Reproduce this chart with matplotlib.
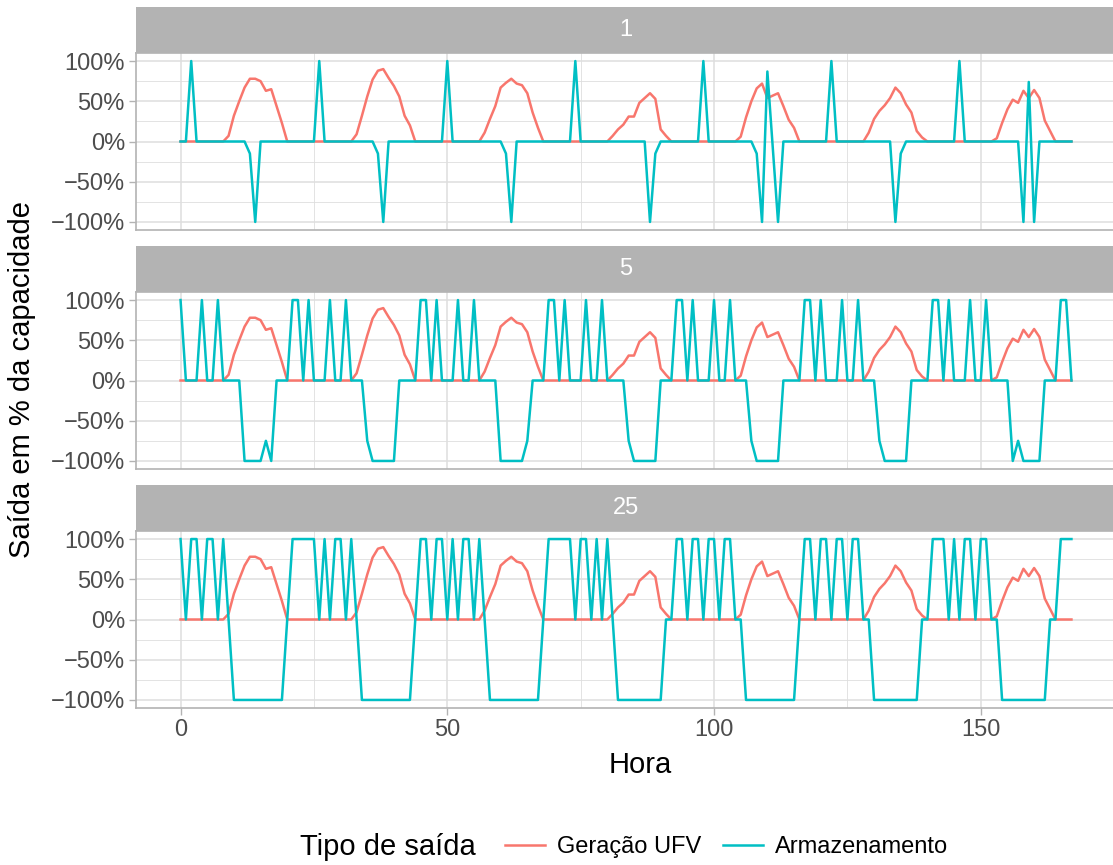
import matplotlib.pyplot as plt
import numpy as np

W, H = 1113, 865
plt.rcParams['font.family'] = ['Liberation Sans', 'DejaVu Sans']

hours = np.arange(168)

# solar generation, % of capacity, one row per day
geracao_ufv = [
    0, 0, 0, 0, 0, 0, 0, 0, 0, 7, 32, 50, 67, 78, 78, 75, 63, 65, 44, 23, 0, 0, 0, 0,
    0, 0, 0, 0, 0, 0, 0, 0, 0, 9, 32, 56, 77, 88, 90, 79, 69, 56, 32, 20, 0, 0, 0, 0,
    0, 0, 0, 0, 0, 0, 0, 0, 0, 11, 28, 44, 67, 73, 78, 72, 70, 60, 36, 17, 0, 0, 0, 0,
    0, 0, 0, 0, 0, 0, 0, 0, 0, 7, 15, 21, 31, 31, 48, 54, 60, 53, 15, 7, 0, 0, 0, 0,
    0, 0, 0, 0, 0, 0, 0, 0, 0, 6, 30, 50, 66, 72, 54, 57, 60, 44, 27, 17, 0, 0, 0, 0,
    0, 0, 0, 0, 0, 0, 0, 0, 0, 11, 28, 38, 45, 54, 67, 60, 46, 36, 13, 5, 0, 0, 0, 0,
    0, 0, 0, 0, 0, 0, 0, 0, 0, 4, 23, 40, 52, 48, 63, 54, 64, 54, 26, 13, 0, 0, 0, 0,
]

# storage output (+ discharge / - charge), % of capacity, per storage size
armazenamento_1 = [
    0, 0, 100, 0, 0, 0, 0, 0, 0, 0, 0, 0, 0, -15, -100, 0, 0, 0, 0, 0, 0, 0, 0, 0,
    0, 0, 100, 0, 0, 0, 0, 0, 0, 0, 0, 0, 0, -15, -100, 0, 0, 0, 0, 0, 0, 0, 0, 0,
    0, 0, 100, 0, 0, 0, 0, 0, 0, 0, 0, 0, 0, -15, -100, 0, 0, 0, 0, 0, 0, 0, 0, 0,
    0, 0, 100, 0, 0, 0, 0, 0, 0, 0, 0, 0, 0, 0, 0, 0, -100, -15, 0, 0, 0, 0, 0, 0,
    0, 0, 100, 0, 0, 0, 0, 0, 0, 0, 0, 0, -15, -100, 87, -6, -100, 0, 0, 0, 0, 0, 0, 0,
    0, 0, 100, 0, 0, 0, 0, 0, 0, 0, 0, 0, 0, 0, -100, -15, 0, 0, 0, 0, 0, 0, 0, 0,
    0, 0, 100, 0, 0, 0, 0, 0, 0, 0, 0, 0, 0, 0, -100, 74, -100, 0, 0, 0, 0, 0, 0, 0,
]
armazenamento_5 = [
    100, 0, 0, 0, 100, 0, 0, 100, 0, 0, 0, 0, -100, -100, -100, -100, -75, -100, 0, 0, 0, 100, 100, 0,
    100, 0, 0, 0, 100, 0, 0, 100, 0, 0, 0, -75, -100, -100, -100, -100, -100, 0, 0, 0, 0, 100, 100, 0,
    100, 0, 0, 0, 100, 0, 0, 100, 0, 0, 0, 0, -100, -100, -100, -100, -100, -75, 0, 0, 0, 100, 100, 0,
    100, 0, 0, 0, 100, 0, 0, 100, 0, 0, 0, 0, -75, -100, -100, -100, -100, -100, 0, 0, 0, 100, 100, 0,
    100, 0, 0, 0, 100, 0, 0, 100, 0, 0, 0, -75, -100, -100, -100, -100, -100, 0, 0, 0, 0, 100, 100, 0,
    100, 0, 0, 0, 100, 0, 0, 100, 0, 0, 0, -75, -100, -100, -100, -100, -100, 0, 0, 0, 0, 100, 100, 0,
    100, 0, 0, 0, 100, 0, 0, 100, 0, 0, 0, 0, -100, -75, -100, -100, -100, -100, 0, 0, 0, 100, 100, 0,
]
armazenamento_25 = [
    100, 0, 100, 100, 0, 100, 100, 0, 100, 0, -100, -100, -100, -100, -100, -100, -100, -100, -100, -100, 0, 100, 100, 100,
    100, 100, 0, 100, 0, 100, 100, 0, 100, 0, -100, -100, -100, -100, -100, -100, -100, -100, -100, -100, 0, 100, 100, 0,
    100, 100, 0, 100, 0, 100, 100, 0, 100, 0, -100, -100, -100, -100, -100, -100, -100, -100, -100, -100, 0, 100, 100, 100,
    100, 100, 0, 100, 100, 0, 100, 0, 100, 0, -100, -100, -100, -100, -100, -100, -100, -100, -100, 0, 0, 100, 100, 0,
    100, 100, 0, 100, 100, 0, 100, 100, 0, 0, -100, -100, -100, -100, -100, -100, -100, -100, -100, -100, 0, 100, 100, 0,
    100, 100, 0, 100, 100, 0, 100, 100, 0, 0, -100, -100, -100, -100, -100, -100, -100, -100, -100, 0, 0, 100, 100, 100,
    0, 100, 0, 100, 100, 0, 100, 100, 0, 0, -100, -100, -100, -100, -100, -100, -100, -100, -100, 0, 0, 100, 100, 100,
]

paineis = ["1", "5", "25"]
series_arm = [armazenamento_1, armazenamento_5, armazenamento_25]

cor_ufv = "#F8766D"
cor_arm = "#00BFC4"
cinza_faixa = "#B3B3B3"
cinza_grade = "#DEDEDE"

fig = plt.figure(figsize=(W / 100, H / 100), dpi=100)


def px_axes(left, top, right, bottom):
    return fig.add_axes([left / W, 1 - bottom / H, (right - left) / W, (bottom - top) / H])


x_esq, x_dir = 136, 1116
topos = [7, 246, 485]
alt_faixa = 46
alt_painel = 177

for i, (nome, arm) in enumerate(zip(paineis, series_arm)):
    t = topos[i]
    faixa = px_axes(x_esq, t, x_dir, t + alt_faixa)
    faixa.set_facecolor(cinza_faixa)
    faixa.set_xticks([])
    faixa.set_yticks([])
    for s in faixa.spines.values():
        s.set_visible(False)
    faixa.text(0.5, 0.5, nome, color="white", fontsize=17,
               ha="center", va="center", transform=faixa.transAxes)

    ax = px_axes(x_esq, t + alt_faixa, x_dir, t + alt_faixa + alt_painel)
    ax.plot(hours, np.array(geracao_ufv) / 100, color=cor_ufv, lw=1.8, zorder=3)
    ax.plot(hours, np.array(arm) / 100, color=cor_arm, lw=1.8, zorder=4)

    ax.set_xlim(-8.35, 175.35)
    ax.set_ylim(-1.1, 1.1)
    ax.set_xticks([0, 50, 100, 150])
    ax.set_xticks([25, 75, 125], minor=True)
    ax.set_yticks([-1, -0.5, 0, 0.5, 1])
    ax.set_yticks([-0.75, -0.25, 0.25, 0.75], minor=True)
    ax.set_yticklabels(["\u2212100%", "\u221250%", "0%", "50%", "100%"])
    ax.grid(which="major", color=cinza_grade, lw=1.1)
    ax.grid(which="minor", color=cinza_grade, lw=0.6)
    ax.set_axisbelow(True)
    ax.tick_params(which="major", color=cinza_faixa, length=5, width=1,
                   labelsize=17, labelcolor="#4D4D4D", pad=3)
    ax.tick_params(which="minor", length=0)
    for s in ax.spines.values():
        s.set_color(cinza_faixa)
        s.set_linewidth(1.2)
    if i < 2:
        ax.tick_params(axis="x", which="major", length=0, labelbottom=False)

fig.text(640 / W, 1 - 765 / H, "Hora", fontsize=21, ha="center", va="center")
fig.text(22 / W, 1 - 380 / H, "Saída em % da capacidade", fontsize=21,
         rotation=90, ha="center", va="center")

fig.text(300 / W, 1 - 847 / H, "Tipo de saída", fontsize=21, ha="left", va="center")
handles = [plt.Line2D([], [], color=cor_ufv, lw=1.8),
           plt.Line2D([], [], color=cor_arm, lw=1.8)]
fig.legend(handles, ["Geração UFV", "Armazenamento"], ncol=2, frameon=False,
           loc="center left", bbox_to_anchor=(484 / W, 1 - 847 / H),
           fontsize=17, handlelength=1.7, handletextpad=0.5, columnspacing=0.9)

fig.savefig("out.png", dpi=100)
